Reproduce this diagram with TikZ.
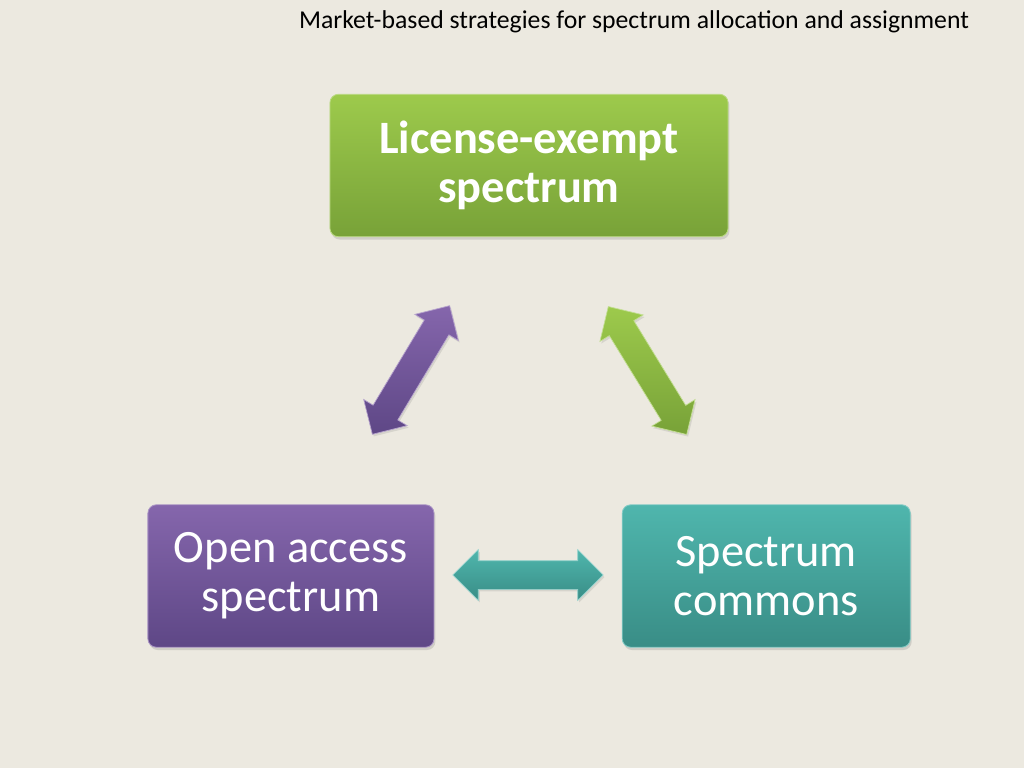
\documentclass[tikz,border=0pt]{standalone}
\usepackage{fontspec}
\setmainfont{Carlito}
\usepackage{tikz}
\usetikzlibrary{positioning, shapes.arrows, shadows}

\definecolor{bgcol}{HTML}{ECE9E0}
\definecolor{greenT}{HTML}{9DCA4C}
\definecolor{greenB}{HTML}{78A238}
\definecolor{purpT}{HTML}{8566AC}
\definecolor{purpB}{HTML}{5E4786}
\definecolor{tealT}{HTML}{4FB6AD}
\definecolor{tealB}{HTML}{398D86}

\begin{document}
\begin{tikzpicture}[x=0.025cm,y=-0.025cm,node distance=1cm]
\tikzstyle{box}=[rectangle,rounded corners=6pt,minimum height=3.56cm,
                 text=white,align=center,inner sep=0pt,line width=0.6pt,
                 font=\fontsize{33pt}{35pt}\selectfont,
                 drop shadow={opacity=0.25,shadow xshift=1pt,shadow yshift=-2pt}]
\tikzstyle{dbl}=[double arrow,double arrow head extend=0.275cm,
                 inner sep=0.35cm,minimum height=3.75cm,line width=0.5pt,
                 drop shadow={opacity=0.2,shadow xshift=1pt,shadow yshift=-1.5pt}]

  % slide background
  \fill[bgcol] (0,0) rectangle (1024,768);
  \useasboundingbox (0,0) rectangle (1024,768);

  \node[font=\fontsize{18.3pt}{21pt}\selectfont] (title) at (634,22)
       {Market-based strategies for spectrum allocation and assignment};

  % the three boxes
  \node[box,minimum width=9.95cm,top color=greenT,bottom color=greenB,
        draw=greenT!70!white,font=\fontsize{33pt}{35pt}\selectfont\bfseries]
        (lex) at (529,165.5) {License-exempt\\spectrum};
  \node[box,minimum width=7.15cm,top color=purpT,bottom color=purpB,
        draw=purpT!70!white,on grid,below left=10.26cm and 5.95cm of lex]
        (oas) {Open access\\spectrum};
  \node[box,minimum width=7.2cm,top color=tealT,bottom color=tealB,
        draw=tealT!70!white,on grid,below right=10.26cm and 5.93cm of lex]
        (sc) {Spectrum\\commons};

  % arrows between them
  \node[dbl,rotate=59,top color=purpT,bottom color=purpB,draw=purpT!60!white]
        (a1) at (411,370) {};
  \node[dbl,rotate=-58.5,top color=greenT,bottom color=greenB,draw=greenT!60!white]
        (a2) at (647.5,370.5) {};
  \node[dbl,top color=tealT,bottom color=tealB,draw=tealT!60!white]
        (a3) at (528,575) {};

\end{tikzpicture}
\end{document}
